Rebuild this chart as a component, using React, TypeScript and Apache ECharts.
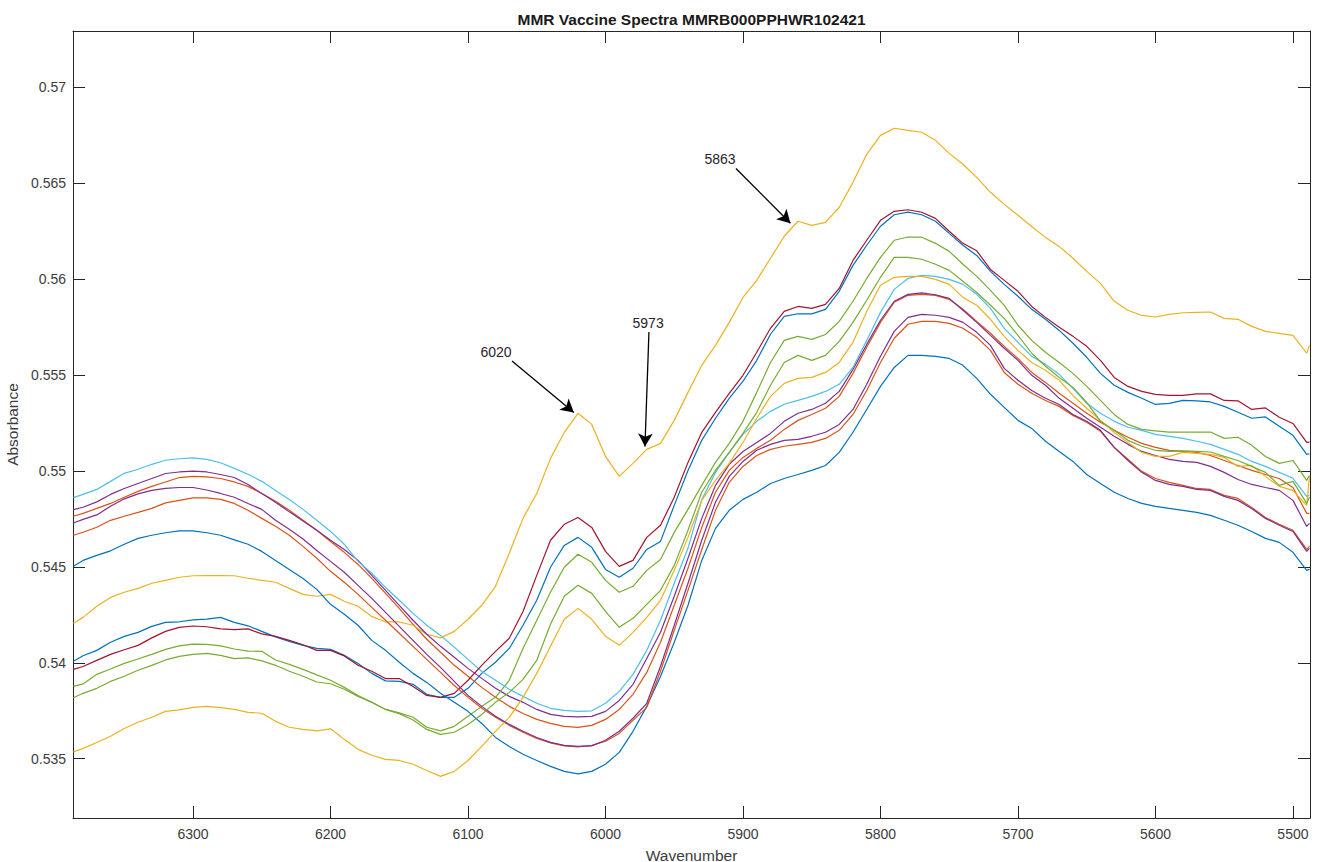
import React, { useEffect, useRef } from "react";
import * as echarts from "echarts";

const wavenumber = [6387, 6380, 6370, 6360, 6350, 6340, 6330, 6320, 6310, 6300, 6290, 6280, 6270, 6260, 6250, 6240, 6230, 6220, 6210, 6200, 6190, 6180, 6170, 6160, 6150, 6140, 6130, 6120, 6110, 6100, 6090, 6080, 6070, 6060, 6050, 6040, 6030, 6020, 6010, 6000, 5990, 5980, 5970, 5960, 5950, 5940, 5930, 5920, 5910, 5900, 5890, 5880, 5870, 5860, 5850, 5840, 5830, 5820, 5810, 5800, 5790, 5780, 5770, 5760, 5750, 5740, 5730, 5720, 5710, 5700, 5690, 5680, 5670, 5660, 5650, 5640, 5630, 5620, 5610, 5600, 5590, 5580, 5570, 5560, 5550, 5540, 5530, 5520, 5510, 5500, 5490, 5488];

const blue1 = [0.54008, 0.54037, 0.54065, 0.54107, 0.54138, 0.54159, 0.5419, 0.54211, 0.54214, 0.54224, 0.54228, 0.54237, 0.54211, 0.54193, 0.54164, 0.54135, 0.54112, 0.54091, 0.54075, 0.5407, 0.54039, 0.53997, 0.53945, 0.53906, 0.53903, 0.53888, 0.53836, 0.5382, 0.5382, 0.53867, 0.53945, 0.54003, 0.54075, 0.54196, 0.54326, 0.54498, 0.54612, 0.54654, 0.54602, 0.54487, 0.54446, 0.54493, 0.54591, 0.54633, 0.54821, 0.55003, 0.5516, 0.55275, 0.55379, 0.55468, 0.55577, 0.55713, 0.55806, 0.5582, 0.55819, 0.55843, 0.55937, 0.56072, 0.56177, 0.56276, 0.56336, 0.5635, 0.56336, 0.56302, 0.56239, 0.56177, 0.56124, 0.56041, 0.55973, 0.55911, 0.55843, 0.55791, 0.55733, 0.55666, 0.55593, 0.55509, 0.55447, 0.5541, 0.55379, 0.55347, 0.55353, 0.55368, 0.55366, 0.5536, 0.55337, 0.55306, 0.55275, 0.55282, 0.55233, 0.55186, 0.55087, 0.5509];
const orange1 = [0.54764, 0.54779, 0.54805, 0.54831, 0.54863, 0.54894, 0.5492, 0.54943, 0.54966, 0.54972, 0.54969, 0.54961, 0.54943, 0.5492, 0.54883, 0.54842, 0.54795, 0.54743, 0.54691, 0.54633, 0.54576, 0.54513, 0.5444, 0.54362, 0.54284, 0.54201, 0.54123, 0.54055, 0.53987, 0.5393, 0.53872, 0.5382, 0.53773, 0.53736, 0.53705, 0.53684, 0.53669, 0.53663, 0.53674, 0.53705, 0.53757, 0.53836, 0.5395, 0.54107, 0.543, 0.54493, 0.54706, 0.54889, 0.55003, 0.55071, 0.55118, 0.5516, 0.55217, 0.55264, 0.55295, 0.55327, 0.55389, 0.55509, 0.55645, 0.55775, 0.5588, 0.55916, 0.55921, 0.55916, 0.55895, 0.55843, 0.5578, 0.55718, 0.5565, 0.55587, 0.55514, 0.55462, 0.55405, 0.55353, 0.55301, 0.55254, 0.55212, 0.55176, 0.55144, 0.55123, 0.55108, 0.55102, 0.55097, 0.55081, 0.55055, 0.55029, 0.55003, 0.54982, 0.54961, 0.54914, 0.54779, 0.54779];
const yellow1 = [0.54206, 0.54237, 0.54295, 0.54341, 0.54368, 0.54388, 0.54415, 0.5443, 0.54446, 0.54454, 0.54455, 0.54455, 0.54454, 0.54441, 0.5443, 0.5442, 0.54388, 0.54357, 0.54347, 0.54357, 0.54321, 0.54295, 0.54242, 0.54213, 0.54213, 0.54196, 0.54149, 0.5413, 0.54164, 0.54227, 0.543, 0.54399, 0.54571, 0.54753, 0.54883, 0.55066, 0.55201, 0.55301, 0.55243, 0.55076, 0.54972, 0.5504, 0.55113, 0.55144, 0.55264, 0.5541, 0.55551, 0.55655, 0.55775, 0.55905, 0.55994, 0.56109, 0.56224, 0.56302, 0.56281, 0.56296, 0.56375, 0.56505, 0.56651, 0.5675, 0.56787, 0.56776, 0.56766, 0.56724, 0.56656, 0.56599, 0.56531, 0.56453, 0.5639, 0.56333, 0.56275, 0.56218, 0.56171, 0.56109, 0.56041, 0.55978, 0.55885, 0.55838, 0.55811, 0.55803, 0.55817, 0.55825, 0.55827, 0.55829, 0.55796, 0.55791, 0.55754, 0.55728, 0.55718, 0.55707, 0.55614, 0.55655];
const purple1 = [0.54799, 0.54811, 0.54839, 0.54878, 0.54909, 0.54935, 0.54961, 0.54987, 0.54995, 0.54999, 0.54995, 0.54982, 0.54966, 0.5493, 0.54883, 0.54837, 0.54787, 0.5474, 0.54691, 0.54639, 0.54591, 0.54534, 0.54456, 0.54378, 0.543, 0.54222, 0.54149, 0.54086, 0.54029, 0.53971, 0.53919, 0.53867, 0.53825, 0.53794, 0.53757, 0.53731, 0.53721, 0.53718, 0.53721, 0.53747, 0.53804, 0.53888, 0.54023, 0.54159, 0.54347, 0.54545, 0.54753, 0.54925, 0.55035, 0.55102, 0.55149, 0.55196, 0.55259, 0.55301, 0.55321, 0.55353, 0.55415, 0.5553, 0.5566, 0.55786, 0.55885, 0.55921, 0.55929, 0.55919, 0.559, 0.55838, 0.55775, 0.55707, 0.5564, 0.55577, 0.55499, 0.55447, 0.55379, 0.55327, 0.55275, 0.55228, 0.55181, 0.55139, 0.55102, 0.55081, 0.55061, 0.5505, 0.55045, 0.55024, 0.54993, 0.54956, 0.5493, 0.54914, 0.54899, 0.54847, 0.54711, 0.54727];
const green1 = [0.53877, 0.5389, 0.5394, 0.53968, 0.53997, 0.5402, 0.54044, 0.5407, 0.54088, 0.54097, 0.54096, 0.54088, 0.54072, 0.54061, 0.5406, 0.54015, 0.53992, 0.53966, 0.53937, 0.53909, 0.53872, 0.5383, 0.53794, 0.53757, 0.53739, 0.53716, 0.53664, 0.53645, 0.53669, 0.53721, 0.53773, 0.5382, 0.53909, 0.54075, 0.54222, 0.54368, 0.54498, 0.54566, 0.54524, 0.5443, 0.54368, 0.54399, 0.54482, 0.54539, 0.5468, 0.548, 0.54925, 0.55045, 0.55144, 0.55259, 0.5541, 0.55566, 0.55681, 0.55702, 0.55686, 0.55712, 0.5578, 0.55885, 0.56004, 0.56114, 0.56203, 0.5622, 0.56219, 0.56187, 0.56145, 0.56078, 0.56015, 0.55942, 0.55864, 0.5576, 0.55681, 0.55619, 0.55566, 0.55509, 0.55441, 0.55368, 0.55295, 0.55243, 0.55217, 0.55209, 0.55203, 0.55203, 0.55203, 0.55203, 0.5517, 0.55176, 0.55134, 0.55076, 0.5504, 0.55055, 0.54951, 0.54977];
const lightBlue = [0.54861, 0.54878, 0.54904, 0.54946, 0.54988, 0.55009, 0.55035, 0.55056, 0.55064, 0.55069, 0.55061, 0.55043, 0.55014, 0.54983, 0.54946, 0.54899, 0.54852, 0.548, 0.54743, 0.54685, 0.54618, 0.54529, 0.54467, 0.54393, 0.54326, 0.54258, 0.54196, 0.54143, 0.54081, 0.54018, 0.53955, 0.53909, 0.53862, 0.53825, 0.53789, 0.53763, 0.53752, 0.53747, 0.5375, 0.53789, 0.53851, 0.5394, 0.54065, 0.54222, 0.54415, 0.54597, 0.5485, 0.54993, 0.55097, 0.55191, 0.55259, 0.55311, 0.55348, 0.55368, 0.55389, 0.55415, 0.55452, 0.5554, 0.55681, 0.55827, 0.55947, 0.56004, 0.5602, 0.56015, 0.55999, 0.55973, 0.55921, 0.55848, 0.55744, 0.55671, 0.55598, 0.55556, 0.55504, 0.55431, 0.55353, 0.55301, 0.55259, 0.55228, 0.55212, 0.55191, 0.55181, 0.5517, 0.55155, 0.55139, 0.55113, 0.55087, 0.5505, 0.55024, 0.54993, 0.54962, 0.54868, 0.54873];
const darkRed = [0.53966, 0.53981, 0.54013, 0.54044, 0.54068, 0.54091, 0.5413, 0.54164, 0.54185, 0.54192, 0.54188, 0.54177, 0.54173, 0.54177, 0.54151, 0.54138, 0.54117, 0.54094, 0.54065, 0.54065, 0.54036, 0.53987, 0.53956, 0.53918, 0.53918, 0.53877, 0.5383, 0.5382, 0.53841, 0.53909, 0.53987, 0.5406, 0.54128, 0.54268, 0.54456, 0.54639, 0.54722, 0.54758, 0.54706, 0.54581, 0.54503, 0.54534, 0.54654, 0.54717, 0.54863, 0.55045, 0.55201, 0.55306, 0.55405, 0.55499, 0.55619, 0.55744, 0.55832, 0.55858, 0.55848, 0.55869, 0.55952, 0.56098, 0.56203, 0.56307, 0.56354, 0.56362, 0.56349, 0.56317, 0.5625, 0.56187, 0.56148, 0.56051, 0.55994, 0.55937, 0.55858, 0.55801, 0.55749, 0.55702, 0.5565, 0.55577, 0.55488, 0.55441, 0.55415, 0.554, 0.55394, 0.55394, 0.55402, 0.55402, 0.55368, 0.55366, 0.55321, 0.55329, 0.5528, 0.55248, 0.55149, 0.55151];
const blue2 = [0.54504, 0.54534, 0.5456, 0.54584, 0.54618, 0.54649, 0.54665, 0.54678, 0.54688, 0.54688, 0.54678, 0.54665, 0.54641, 0.54618, 0.54581, 0.54534, 0.54487, 0.5444, 0.54383, 0.54305, 0.54253, 0.54196, 0.54117, 0.54065, 0.54003, 0.53945, 0.53898, 0.53841, 0.53794, 0.53747, 0.53684, 0.53611, 0.53564, 0.53523, 0.53491, 0.5346, 0.53434, 0.53421, 0.53434, 0.53471, 0.53533, 0.53643, 0.53773, 0.53929, 0.54107, 0.543, 0.54534, 0.54701, 0.54795, 0.54852, 0.54889, 0.54935, 0.54961, 0.54982, 0.55003, 0.55029, 0.55097, 0.55202, 0.55321, 0.55441, 0.5554, 0.55603, 0.55603, 0.55598, 0.55587, 0.55551, 0.55483, 0.554, 0.55332, 0.55264, 0.55222, 0.55155, 0.55102, 0.5505, 0.54982, 0.54935, 0.54889, 0.54857, 0.54831, 0.54816, 0.54805, 0.54795, 0.54784, 0.54769, 0.54743, 0.54717, 0.54685, 0.54649, 0.54628, 0.54576, 0.54482, 0.54487];
const orange2 = [0.54665, 0.54681, 0.54707, 0.54743, 0.54764, 0.54784, 0.54805, 0.54834, 0.54847, 0.5486, 0.5486, 0.54852, 0.54831, 0.54795, 0.54753, 0.54712, 0.54665, 0.54607, 0.54545, 0.54477, 0.5442, 0.54357, 0.54289, 0.54222, 0.54154, 0.54086, 0.54018, 0.5395, 0.53882, 0.5382, 0.53763, 0.53716, 0.53674, 0.53638, 0.53606, 0.53583, 0.53567, 0.53562, 0.5357, 0.53591, 0.53632, 0.537, 0.53768, 0.53956, 0.5417, 0.54378, 0.54591, 0.54795, 0.54941, 0.55024, 0.55081, 0.55113, 0.55129, 0.55139, 0.55149, 0.5517, 0.55212, 0.55295, 0.5542, 0.55566, 0.55692, 0.55765, 0.5578, 0.5578, 0.5577, 0.55744, 0.55697, 0.55629, 0.55514, 0.55452, 0.55405, 0.55368, 0.55337, 0.5529, 0.55254, 0.55207, 0.55123, 0.55061, 0.54998, 0.54961, 0.54941, 0.54925, 0.54909, 0.54904, 0.54873, 0.54857, 0.5481, 0.54758, 0.54722, 0.54691, 0.54591, 0.54607];
const yellow2 = [0.53535, 0.53554, 0.53585, 0.53617, 0.53658, 0.5369, 0.53716, 0.53747, 0.53755, 0.53768, 0.53773, 0.53766, 0.53757, 0.53742, 0.53737, 0.53695, 0.53664, 0.53653, 0.53645, 0.53656, 0.53601, 0.53549, 0.53518, 0.53497, 0.53491, 0.53471, 0.53439, 0.53408, 0.53434, 0.53491, 0.53564, 0.53643, 0.53716, 0.5382, 0.53945, 0.54086, 0.54227, 0.54284, 0.54227, 0.54138, 0.54091, 0.54159, 0.54237, 0.54326, 0.54482, 0.54654, 0.54847, 0.54951, 0.5504, 0.55149, 0.55275, 0.55389, 0.55457, 0.55483, 0.55488, 0.55514, 0.55566, 0.55671, 0.55832, 0.55968, 0.5601, 0.56015, 0.56015, 0.55999, 0.55973, 0.55905, 0.55864, 0.55791, 0.55702, 0.55629, 0.55566, 0.55525, 0.55473, 0.55394, 0.55327, 0.55264, 0.55201, 0.55149, 0.55097, 0.55076, 0.55076, 0.55097, 0.55092, 0.55087, 0.55071, 0.55024, 0.55029, 0.54972, 0.5492, 0.54899, 0.54821, 0.54972];
const purple2 = [0.54729, 0.54748, 0.54771, 0.54816, 0.54855, 0.54881, 0.54899, 0.54909, 0.54914, 0.54914, 0.54901, 0.54883, 0.54863, 0.54831, 0.548, 0.54743, 0.54696, 0.54646, 0.54586, 0.54529, 0.54472, 0.54404, 0.54336, 0.54263, 0.5419, 0.54117, 0.54044, 0.53976, 0.53903, 0.5383, 0.53773, 0.53721, 0.53679, 0.53643, 0.53611, 0.53585, 0.5357, 0.53564, 0.53567, 0.53596, 0.53643, 0.53711, 0.53789, 0.53982, 0.54196, 0.54415, 0.54639, 0.54837, 0.54972, 0.5505, 0.55108, 0.55139, 0.5516, 0.55165, 0.55181, 0.55202, 0.55243, 0.55321, 0.55452, 0.55598, 0.55728, 0.55801, 0.55817, 0.55812, 0.55801, 0.55775, 0.55723, 0.55655, 0.55535, 0.55473, 0.5542, 0.55379, 0.55347, 0.55295, 0.55259, 0.55212, 0.55123, 0.55055, 0.54993, 0.54951, 0.5493, 0.5492, 0.54904, 0.54899, 0.54868, 0.54847, 0.54805, 0.54753, 0.54717, 0.54685, 0.54581, 0.54597];
const green2 = [0.53818, 0.53841, 0.53867, 0.53903, 0.5393, 0.53961, 0.53987, 0.54015, 0.54034, 0.54044, 0.54049, 0.54039, 0.54022, 0.54026, 0.5401, 0.53987, 0.53956, 0.5393, 0.539, 0.53891, 0.53862, 0.53825, 0.53794, 0.53757, 0.53735, 0.53702, 0.53653, 0.53627, 0.53638, 0.53679, 0.53731, 0.53794, 0.53846, 0.53914, 0.54013, 0.54201, 0.54347, 0.54404, 0.54362, 0.54268, 0.54185, 0.54232, 0.54305, 0.54378, 0.54508, 0.54691, 0.54889, 0.55003, 0.55097, 0.55196, 0.55306, 0.55447, 0.55566, 0.55603, 0.55577, 0.55603, 0.55676, 0.55775, 0.5589, 0.5601, 0.56114, 0.56114, 0.56104, 0.56078, 0.56046, 0.55989, 0.55931, 0.55864, 0.55796, 0.55707, 0.55614, 0.55546, 0.55488, 0.55436, 0.55358, 0.55259, 0.55212, 0.5516, 0.55129, 0.55108, 0.55102, 0.55105, 0.55102, 0.55099, 0.55076, 0.55055, 0.55024, 0.54993, 0.54925, 0.54946, 0.54831, 0.54864];

const spectra = [blue1, orange1, yellow1, purple1, green1, lightBlue, darkRed, blue2, orange2, yellow2, purple2, green2];
const spectrumColors = ["#0072BD", "#D95319", "#EDB120", "#7E2F8E", "#77AC30", "#4DBEEE", "#A2142F", "#0072BD", "#D95319", "#EDB120", "#7E2F8E", "#77AC30"];

const xTicks = [5500, 5600, 5700, 5800, 5900, 6000, 6100, 6200, 6300];
const yTicks = [0.535, 0.54, 0.545, 0.55, 0.555, 0.56, 0.565, 0.57];

const peakLabels = ["6020", "5973", "5863"];
const peakLabelAt = [[6079.6, 0.55619], [5969, 0.5577], [5916.7, 0.56625]];
const arrowFrom = [[6068, 0.55573], [5968.4, 0.55725], [5905.1, 0.56577]];
const arrowTo = [[6023, 0.55305], [5971.3, 0.55128], [5865.5, 0.56292]];

const FONT = '"Liberation Sans", Arial, Helvetica, sans-serif';
const AX = "#262626";
const LBL = "#3c3c3c";

export default function App() {
  const ref = useRef<HTMLDivElement>(null);

  useEffect(() => {
    if (!ref.current) return;
    const chart = echarts.init(ref.current, null, { renderer: "svg" });

    const xCommon = {
      type: "value",
      min: 5487.6,
      max: 6387.3,
      inverse: true,
      splitLine: { show: false },
      axisLine: { show: true, onZero: false, lineStyle: { color: AX, width: 1 } },
      axisTick: { show: true, inside: true, length: 12, customValues: xTicks, lineStyle: { color: AX, width: 1 } },
    };
    const yCommon = {
      type: "value",
      min: 0.53191,
      max: 0.57294,
      splitLine: { show: false },
      axisLine: { show: true, onZero: false, lineStyle: { color: AX, width: 1 } },
      axisTick: { show: true, inside: true, length: 12, customValues: yTicks, lineStyle: { color: AX, width: 1 } },
    };

    const series: any[] = spectra.map((vals, i) => ({
      type: "line",
      name: "s" + (i + 1),
      data: wavenumber.map((w, j) => [w, vals[j]]),
      showSymbol: false,
      symbol: "none",
      smooth: false,
      lineStyle: { color: spectrumColors[i], width: 1.2 },
      itemStyle: { color: spectrumColors[i] },
      emphasis: { disabled: true },
      silent: true,
      z: 2,
    }));

    series.push({
      type: "line",
      name: "annotations",
      data: [],
      silent: true,
      z: 5,
      markLine: {
        silent: true,
        animation: false,
        symbol: ["none", "arrow"],
        symbolSize: [11, 13],
        lineStyle: { color: "#000000", width: 1.3, type: "solid" },
        label: { show: false },
        emphasis: { disabled: true },
        data: arrowFrom.map((f, i) => [{ coord: f }, { coord: arrowTo[i] }]),
      },
      markPoint: {
        silent: true,
        animation: false,
        symbol: "circle",
        symbolSize: 0,
        itemStyle: { color: "transparent" },
        label: {
          show: true,
          position: "inside",
          formatter: "{b}",
          color: AX,
          fontSize: 14,
          fontFamily: FONT,
        },
        data: peakLabelAt.map((p, i) => ({ name: peakLabels[i], coord: p })),
      },
    });

    chart.setOption({
      animation: false,
      backgroundColor: "#ffffff",
      textStyle: { fontFamily: FONT },
      grid: { left: 73, right: 10, top: 31, bottom: 44, containLabel: false, outerBoundsMode: "none" },
      xAxis: [
        {
          ...xCommon,
          position: "bottom",
          axisLabel: {
            show: true,
            customValues: xTicks,
            color: LBL,
            fontSize: 14,
            fontFamily: FONT,
            margin: 9,
            formatter: (v: number) => String(v),
          },
          name: "Wavenumber",
          nameLocation: "middle",
          nameGap: 29,
          nameTextStyle: { color: LBL, fontSize: 15.5, fontFamily: FONT },
        },
        {
          ...xCommon,
          position: "top",
          axisLabel: { show: false },
        },
      ],
      yAxis: [
        {
          ...yCommon,
          position: "left",
          axisLabel: {
            show: true,
            customValues: yTicks,
            color: LBL,
            fontSize: 14,
            fontFamily: FONT,
            margin: 7,
            formatter: (v: number) => String(parseFloat(Number(v).toFixed(4))),
          },
          name: "Absorbance",
          nameLocation: "middle",
          nameGap: 48,
          nameTextStyle: { color: LBL, fontSize: 15.5, fontFamily: FONT },
        },
        {
          ...yCommon,
          position: "right",
          axisLabel: { show: false },
        },
      ],
      graphic: [
        {
          type: "text",
          x: 691.5,
          y: 19,
          style: {
            text: "MMR Vaccine Spectra MMRB000PPHWR102421",
            fill: "#1a1a1a",
            fontSize: 15.5,
            fontWeight: "bold",
            fontFamily: FONT,
            align: "center",
            verticalAlign: "middle",
          },
        },
      ],
      series,
    });

    return () => {
      chart.dispose();
    };
  }, []);

  return (
    <div
      ref={ref}
      style={{ position: "fixed", left: 0, top: 0, width: 1320, height: 862, background: "#fff" }}
    />
  );
}
